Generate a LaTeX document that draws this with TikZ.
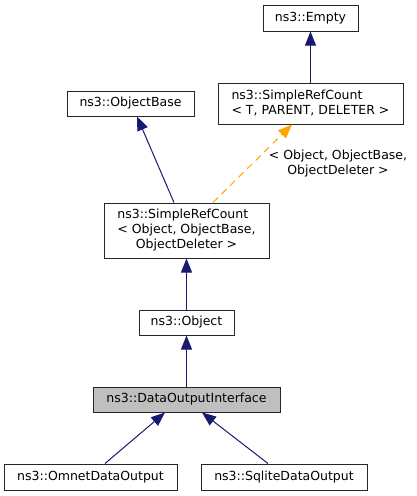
\documentclass[tikz,border=0pt]{standalone}
\usepackage{fontspec}
\setmainfont{DejaVu Sans}
\usetikzlibrary{arrows.meta}
\definecolor{navy}{HTML}{191970}
\definecolor{tmplorange}{HTML}{FFA500}
\begin{document}
\begin{tikzpicture}[x=1pt,y=-1pt,
    font=\fontsize{12.5}{15}\selectfont,
    cls/.style={draw=black!85,line width=1pt,inner sep=0pt,minimum height=25pt},
    cur/.style={cls,fill=black!25},
    inh/.style={draw=navy,line width=1pt,-{Triangle[length=14pt,width=11pt,fill=navy]}},
    tmpl/.style={draw=tmplorange,line width=1pt,dash pattern=on 7pt off 5pt,
      -{Triangle[length=14pt,width=11pt,fill=tmplorange]}}]
      \useasboundingbox (0,0) rectangle (416,496);
      \draw
        (310.5,18) node[cls,minimum width=95pt,minimum height=26pt] (empty){ns3::Empty}
        (310.5,103.5) node[cls,minimum width=185pt,minimum height=41pt] (srct)
          {\begin{tabular}{@{}l@{}}ns3::SimpleRefCount\\< T, PARENT, DELETER >\end{tabular}}
        (130.5,103.5) node[cls,minimum width=127pt] (objbase){ns3::ObjectBase}
        (186.5,230.5) node[cls,minimum width=165pt,minimum height=55pt] (srco)
          {\begin{tabular}{@{}l@{}}ns3::SimpleRefCount\\< Object, ObjectBase,\\
           \multicolumn{1}{@{}c@{}}{ObjectDeleter >}\end{tabular}}
        (186.5,322.5) node[cls,minimum width=95pt] (object){ns3::Object}
        (186.5,399.5) node[cur,minimum width=187pt] (doi){ns3::DataOutputInterface}
        (90.5,477) node[cls,minimum width=173pt,minimum height=26pt] (omnet){ns3::OmnetDataOutput}
        (284,477) node[cls,minimum width=166pt,minimum height=26pt] (sqlite){ns3::SqliteDataOutput};
      \begin{scope}
        \draw[inh] (srct) to (empty);
        \draw[inh] ([xshift=-12.5pt]srco.north) to ([xshift=6.5pt]objbase.south);
        \draw[tmpl] ([xshift=26.5pt]srco.north) to ([xshift=-18.5pt]srct.south);
        \draw[inh] (object) to (srco);
        \draw[inh] (doi) to (object);
        \draw[inh] ([xshift=14.5pt]omnet.north) to ([xshift=-21.5pt]doi.south);
        \draw[inh] ([xshift=-16pt]sqlite.north) to ([xshift=15.5pt]doi.south);
      \end{scope}
      \node[align=center] (tmpllabel) at (338,163.5) {< Object, ObjectBase,\\ObjectDeleter >};
    \end{tikzpicture}
\end{document}
